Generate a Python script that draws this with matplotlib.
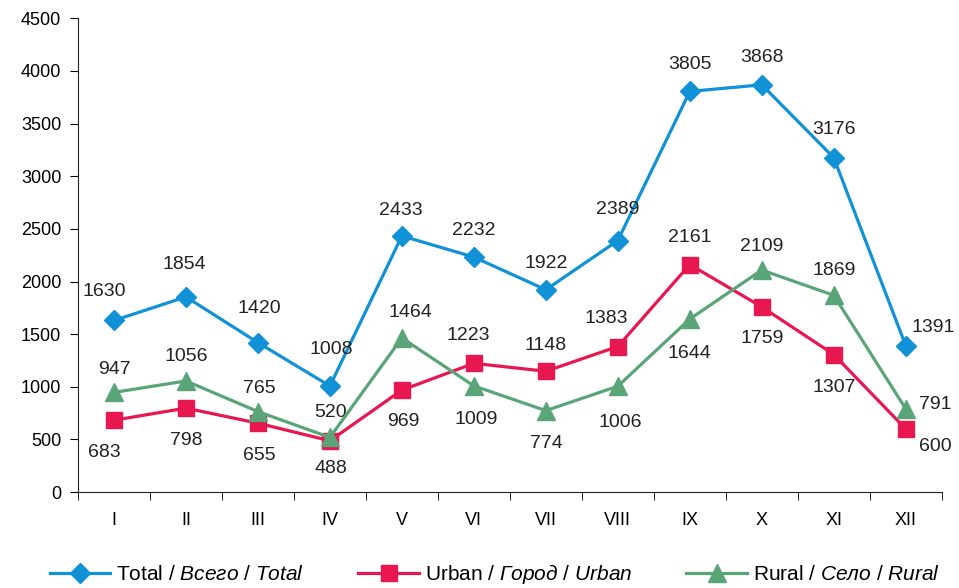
import numpy as np
import matplotlib.pyplot as plt

plt.rcParams['font.family'] = ['Liberation Sans', 'DejaVu Sans']
plt.rcParams['mathtext.fontset'] = 'custom'
plt.rcParams['mathtext.it'] = 'Liberation Sans:italic'
plt.rcParams['mathtext.rm'] = 'Liberation Sans'

months = ['I', 'II', 'III', 'IV', 'V', 'VI', 'VII', 'VIII', 'IX', 'X', 'XI', 'XII']
total = [1630, 1854, 1420, 1008, 2433, 2232, 1922, 2389, 3805, 3868, 3176, 1391]
urban = [683, 798, 655, 488, 969, 1223, 1148, 1383, 2161, 1759, 1307, 600]
rural = [947, 1056, 765, 520, 1464, 1009, 774, 1006, 1644, 2109, 1869, 791]

# label offsets in pixels (dx, dy), dy positive = up
off_total = [(-10, 29), (-2, 32), (1, 34), (1, 36), (-1, 25), (0, 27), (0, 26), (0, 31),
             (0, 27), (0, 27), (0, 28), (27, 18)]
off_urban = [(-10, -32), (0, -32), (1, -32), (1, -28), (1, -31), (-6, 28), (0, 26), (-12, 28),
             (0, 27), (0, -32), (0, -33), (30, -18)]
off_rural = [(0, 23), (0, 24), (1, 23), (1, 25), (8, 25), (2, -34), (1, -33), (2, -36),
             (0, -34), (0, 24), (0, 25), (30, 4)]

c_total = '#1192d6'
c_urban = '#e8174f'
c_rural = '#5aa577'

fig = plt.figure(figsize=(9.59, 5.88), dpi=100)
ax = fig.add_axes([0.0813, 0.163, 0.9007, 0.806])
x = np.arange(len(months))

ax.plot(x, total, color=c_total, lw=2.3, marker='D', ms=10, zorder=3,
        label=r'Total / $\mathit{Всего\ /\ Total}$')
ax.plot(x, urban, color=c_urban, lw=2.3, marker='s', ms=11, zorder=3,
        label=r'Urban / $\mathit{Город\ /\ Urban}$')
ax.plot(x, rural, color=c_rural, lw=2.3, marker='^', ms=13, zorder=4,
        label=r'Rural / $\mathit{Село\ /\ Rural}$')

for vals, offs in [(total, off_total), (urban, off_urban), (rural, off_rural)]:
    for xi, v, (dx, dy) in zip(x, vals, offs):
        ax.annotate(str(v), (xi, v), xytext=(dx, dy), textcoords='offset pixels',
                    ha='center', va='center', fontsize=14, color='#222222')

ax.set_xlim(-0.5, 11.5)
ax.set_ylim(0, 4500)
ax.set_yticks(np.arange(0, 4501, 500))
ax.set_xticks(x)
ax.set_xticklabels(months)
ax.set_xticks(np.arange(-0.5, 12, 1), minor=True)
ax.tick_params(axis='x', which='major', length=0, pad=14, labelsize=13)
ax.tick_params(axis='x', which='minor', length=6, direction='out')
ax.tick_params(axis='y', length=6, direction='out', labelsize=13, pad=6)
for s in ['top', 'right']:
    ax.spines[s].set_visible(False)
for s in ['left', 'bottom']:
    ax.spines[s].set_color('#222222')

fig.legend(loc='center', bbox_to_anchor=(0.516, 0.024), ncol=3, frameon=False,
           fontsize=15, handlelength=2.9, handletextpad=0.3, columnspacing=2.6,
           borderpad=0, borderaxespad=0)

fig.savefig('out.png', dpi=100)
